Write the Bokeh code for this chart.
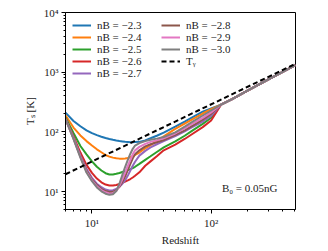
from bokeh.plotting import figure
from bokeh.models import Range1d, FixedTicker, Legend, LegendItem, Label
from bokeh.embed import file_html
from bokeh.resources import INLINE

# ---- data ----
redshift = [6, 7, 8, 9, 10, 11, 12, 13, 14, 15, 16, 17, 18, 19, 20, 21, 22, 23,
            25, 28, 31, 35, 40, 50, 60, 70, 85, 100, 121, 150, 200, 300, 510]

ts_m23 = [210, 152, 124, 106, 95, 88, 83, 79, 76, 73.5, 71.5, 70, 69, 68, 67.5, 67, 67, 67.5,
          68, 72, 78, 86, 97, 122, 149, 177, 218, 248, 285, 354, 484, 747, 1310]
ts_m24 = [190, 118, 87, 70, 59, 51, 45.5, 41, 38.5, 37, 36, 35.6, 35.5, 35.8, 36.5, 37.5, 39, 41,
          45, 53, 60, 70, 84, 112, 138, 164, 203, 240, 285, 354, 484, 747, 1310]
ts_m25 = [174, 96, 58, 42, 32, 26, 22.5, 20.3, 19.3, 19.3, 19.8, 20.5, 21.3, 22, 22.8, 23.7, 24.8, 26,
          29, 34, 39, 46, 55, 69, 86, 106, 136, 172, 285, 354, 484, 747, 1310]
ts_m26 = [168, 84, 45, 28, 20.5, 16.5, 14.3, 13.1, 12.6, 12.6, 12.9, 13.4, 14, 14.7, 15.4, 16.2, 17.2, 18.4,
          21, 27, 32, 39, 49, 61, 76, 93, 120, 155, 285, 354, 484, 747, 1310]
ts_m27 = [165, 80, 40, 24, 17, 13.5, 11.8, 10.8, 10.4, 10.5, 11, 12, 13.5, 15.5, 18.5, 22.5, 27, 31.5,
          40, 48, 55, 62, 70, 85, 102, 121, 149, 185, 285, 354, 484, 747, 1310]
ts_m28 = [165, 78, 39, 22.5, 16, 12.8, 11.1, 10.2, 9.8, 9.9, 10.5, 12, 14.5, 18, 23, 29, 36, 42,
          49, 57, 62, 67, 73, 89, 106, 127, 160, 200, 285, 354, 484, 747, 1310]
ts_m29 = [164, 77, 38, 21.5, 15.4, 12.2, 10.6, 9.7, 9.3, 9.4, 10.2, 12.5, 16, 21, 27, 34, 42, 49,
          56, 63, 68, 72, 78, 94, 114, 138, 172, 212, 285, 354, 484, 747, 1310]
ts_m30 = [164, 76, 37, 20.8, 14.9, 11.7, 10.1, 9.2, 8.8, 9.0, 10.2, 13.5, 19, 26, 34, 43, 52, 59,
          65, 70, 74, 77, 82, 98, 122, 148, 188, 228, 285, 354, 484, 747, 1310]

tgamma_z = [6, 510]
tgamma_t = [19.5, 1380]

series_labels = ["nB = \u22122.3", "nB = \u22122.4", "nB = \u22122.5", "nB = \u22122.6",
                 "nB = \u22122.7", "nB = \u22122.8", "nB = \u22122.9", "nB = \u22123.0"]
series_values = [ts_m23, ts_m24, ts_m25, ts_m26, ts_m27, ts_m28, ts_m29, ts_m30]
colors = ["#1f77b4", "#ff7f0e", "#2ca02c", "#d62728", "#9467bd", "#8c564b", "#e377c2", "#7f7f7f"]

x_major = [10, 100]
x_minor = [6, 7, 8, 9, 20, 30, 40, 50, 60, 70, 80, 90, 200, 300, 400, 500]
y_major = [10, 100, 1000, 10000]
y_minor = [5, 6, 7, 8, 9, 20, 30, 40, 50, 60, 70, 80, 90,
           200, 300, 400, 500, 600, 700, 800, 900,
           2000, 3000, 4000, 5000, 6000, 7000, 8000, 9000]

FONT = "Liberation Serif"
TXT = "#222222"

p = figure(width=328, height=251, x_axis_type="log", y_axis_type="log",
           x_range=Range1d(6, 510), y_range=Range1d(5, 1e4),
           output_backend="svg", toolbar_location=None,
           min_border_left=65, min_border_right=33, min_border_top=12, min_border_bottom=42)

p.grid.visible = False
p.outline_line_color = "black"
p.outline_line_width = 1
p.outline_line_alpha = 1
p.background_fill_color = "white"
p.border_fill_color = "white"

p.xaxis.ticker = FixedTicker(ticks=x_major, minor_ticks=x_minor)
p.yaxis.ticker = FixedTicker(ticks=y_major, minor_ticks=y_minor)
p.xaxis.major_label_overrides = {10: "10\u00b9", 100: "10\u00b2"}
p.yaxis.major_label_overrides = {10: "10\u00b9", 100: "10\u00b2", 1000: "10\u00b3", 10000: "10\u2074"}

for ax in (p.xaxis[0], p.yaxis[0]):
    ax.major_tick_in = 0
    ax.major_tick_out = 4
    ax.minor_tick_in = 0
    ax.minor_tick_out = 2
    ax.axis_line_color = "black"
    ax.major_tick_line_color = "black"
    ax.minor_tick_line_color = "black"
    ax.major_label_text_font = FONT
    ax.major_label_text_font_size = "11px"
    ax.major_label_text_color = TXT
    ax.axis_label_text_font = FONT
    ax.axis_label_text_font_size = "11px"
    ax.axis_label_text_font_style = "normal"
    ax.axis_label_text_color = TXT
    ax.major_label_standoff = 3

p.xaxis.axis_label = "Redshift"
p.yaxis.axis_label = "T\u209b [K]"
p.xaxis.axis_label_standoff = 2
p.yaxis.axis_label_standoff = 5

items = []
for lab, vals, col in zip(series_labels, series_values, colors):
    r = p.line(redshift, vals, line_color=col, line_width=2)
    items.append(LegendItem(label=lab, renderers=[r]))

rg = p.line(tgamma_z, tgamma_t, line_color="black", line_width=2, line_dash="5 3")
items.append(LegendItem(label="T\u1d67", renderers=[rg]))

legend = Legend(items=items, location="top_left", ncols=2, orientation="vertical",
                label_text_font=FONT, label_text_font_size="11px", label_text_color=TXT,
                glyph_width=19, glyph_height=12, label_height=12, label_standoff=6,
                label_width=64, spacing=0, padding=0, margin=7,
                border_line_color=None, background_fill_alpha=0)
p.add_layout(legend)

p.add_layout(Label(x=212, y=22, x_units="screen", y_units="screen",
                   text="B\u2080 = 0.05nG", text_align="right", text_baseline="middle",
                   text_font=FONT, text_font_size="11px", text_color=TXT))

open("out.html", "w").write(file_html(p, INLINE))
